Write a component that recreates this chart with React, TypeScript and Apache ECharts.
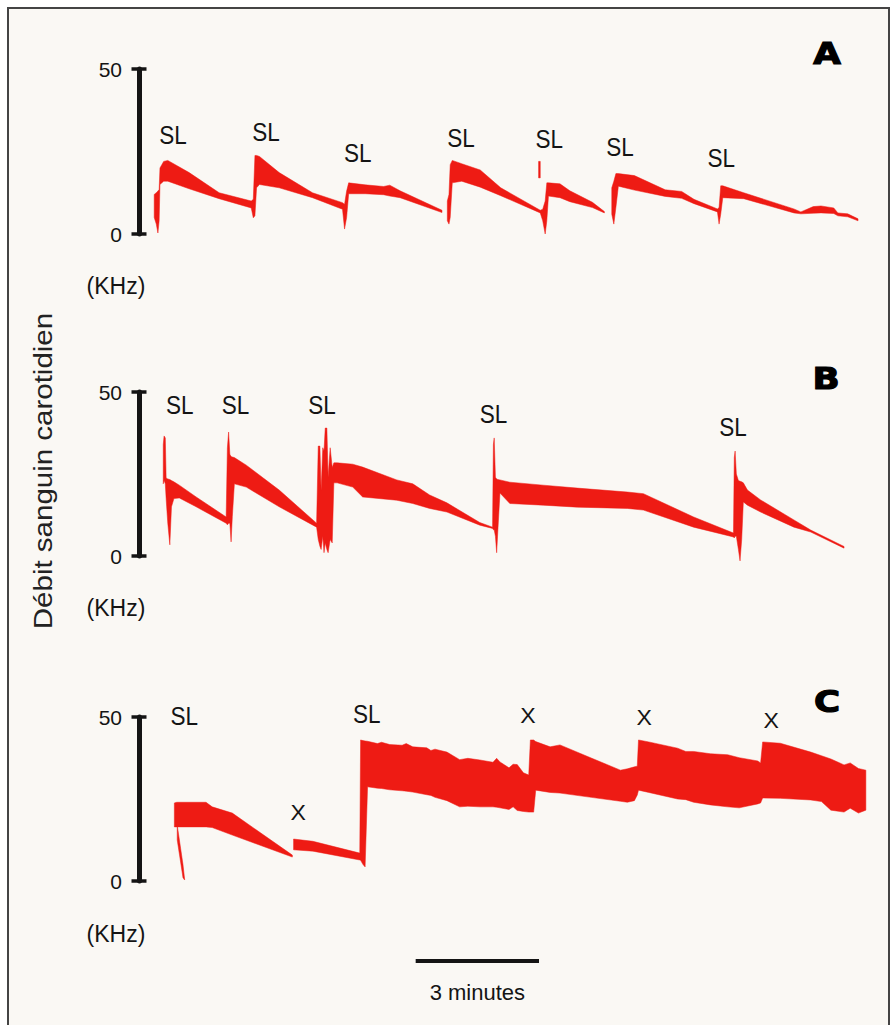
import React, { useEffect, useRef } from "react";
import * as echarts from "echarts";

type Pt = [number, number, number]; // [time (min), lower (KHz), upper (KHz)]

const FONT = '"Liberation Sans", Arial, Helvetica, sans-serif';
const RED = "#ee1b14";
const INK = "#141414";

const X_MIN = 0;
const X_MAX = 18;
const Y_MIN = 0;
const Y_MAX = 50;
const Y_STEP = 50;

// ---------- Panel A ----------
const traceA1: Pt[] = [
  [0.37, 5, 12], [0.42, 3, 12.5], [0.46, 0.3, 13], [0.49, 4, 13.5], [0.51, 15, 20],
  [0.6, 16, 22], [0.7, 16, 22.3], [1.22, 13.7, 18.6], [1.95, 10.7, 12.5], [2.73, 7.9, 10],
  [2.78, 4.9, 10.5], [2.82, 5.5, 23.8], [2.86, 14, 23.8], [2.93, 15, 23.5], [3.41, 14, 18.6],
  [4.22, 11, 12.5], [4.95, 7.5, 9.5], [5.0, 1.5, 9], [5.05, 5, 13], [5.1, 12.2, 15.5],
  [5.5, 12.2, 14.9], [5.95, 11.9, 14.4], [6.1, 11.5, 14.8], [6.35, 11, 13.1], [7.37, 6.5, 7.2],
];
const traceA4: Pt[] = [
  [7.5, 4, 10], [7.54, 3, 12], [7.57, 5, 21], [7.62, 15.5, 22.3], [7.85, 16, 21.3],
  [8.3, 14.2, 19.4], [8.8, 11.6, 14], [9.76, 6.4, 7.2], [9.82, 4, 7.5], [9.88, 0, 10],
  [9.92, 4, 15.5], [9.96, 11.5, 15.5], [10.24, 11, 15.2], [10.48, 9.8, 13.1], [11.03, 8, 9.6],
  [11.32, 6.4, 6.8],
];
const tickA: Pt[] = [[9.72, 17, 22], [9.76, 17, 22]];
const traceA6: Pt[] = [
  [11.5, 6, 14], [11.55, 3, 16], [11.6, 8, 18.3], [11.66, 14.5, 18.3], [12.05, 13.3, 17.7],
  [12.8, 11.4, 13.4], [13.2, 10.8, 12.9], [13.5, 9.2, 10.5], [14.07, 6.7, 7.6], [14.11, 3, 8],
  [14.15, 6, 14.6], [14.2, 11, 14.6], [14.71, 10.7, 12.5], [15.93, 6.4, 7.6], [16.1, 6.1, 6.7],
  [16.4, 6.3, 8.3], [16.59, 6.4, 8.5], [16.9, 6.2, 7.9], [17.0, 5.5, 6.4], [17.24, 5.2, 6.1],
  [17.49, 4.0, 4.6],
];
const slLabelsA: [number, number][] = [
  [0.83, 30.1], [3.09, 30.9], [5.32, 24.4], [7.83, 29.0], [9.98, 28.7], [11.7, 26.2], [14.16, 22.9],
];

// ---------- Panel B ----------
const traceB: Pt[] = [
  [0.59, 22, 34], [0.61, 23, 36.6], [0.64, 22, 36], [0.66, 17.5, 23.8], [0.7, 10, 23.5],
  [0.75, 3.4, 23.3], [0.79, 15, 23], [0.85, 17.5, 22.6], [0.98, 17.7, 21.6], [1.39, 15, 18],
  [2.12, 10, 11.9], [2.15, 9.5, 33], [2.18, 10, 37.8], [2.21, 10, 31], [2.24, 4.3, 30.3],
  [2.27, 12, 30.2], [2.32, 22, 30], [2.61, 21, 27.7], [3.41, 15, 20.1], [4.32, 8.8, 10],
  [4.36, 5, 33.5], [4.4, 3, 33.5], [4.43, 2, 20], [4.47, 6, 33], [4.5, 1, 32],
  [4.53, 4, 39], [4.57, 2, 39], [4.6, 1, 24], [4.65, 5, 33], [4.7, 4, 27],
  [4.74, 22.3, 28.4], [4.82, 22.3, 28.4], [5.2, 21, 28], [5.44, 18, 27.1], [6.27, 17, 23.2],
  [6.66, 16, 22], [7.07, 14.5, 18.6], [7.49, 13.4, 16.2], [8.29, 9.4, 10.2], [8.6, 8.4, 8.8],
  [8.62, 8, 34], [8.64, 8, 36], [8.67, 6, 24], [8.7, 1, 23.5], [8.73, 8, 23.3],
  [8.78, 19.2, 23.2], [9.02, 16, 22.5], [9.83, 15.5, 21.6], [10.66, 14.9, 20.7], [11.88, 14.5, 19.5],
  [12.27, 14, 19.0], [13.49, 8.8, 11.9], [14.46, 5.8, 7], [14.48, 5.5, 30], [14.5, 6, 32],
  [14.53, 6, 25], [14.58, 2, 23], [14.62, -1.5, 22.8], [14.66, 5, 22.6], [14.7, 16.5, 22.3],
  [14.8, 15.5, 20.1], [15.12, 13.4, 17.1], [15.93, 8.8, 11], [16.34, 7.3, 7.9], [17.15, 2.4, 2.9],
];
const slLabelsB: [number, number][] = [
  [0.99, 46.1], [2.35, 46.1], [4.45, 46.1], [8.62, 43.2], [14.45, 39.45],
];

// ---------- Panel C ----------
const traceC1: Pt[] = [
  [0.86, 16.5, 23.8], [0.92, 16.5, 24], [1.63, 16.5, 24], [1.78, 16.3, 22.6],
  [2.27, 14, 20.7], [3.73, 7.3, 7.9],
];
const tailC1: Pt[] = [[0.93, 12.5, 17], [1.07, 1, 5], [1.11, 0.3, 0.5]];
const traceC2: Pt[] = [
  [3.76, 9.5, 12.8], [4.23, 9.1, 12.1], [5.37, 6.4, 8.5], [5.39, 6.3, 43], [5.45, 5, 42.8],
  [5.5, 4.3, 42.7], [5.56, 28.7, 42.6], [5.8, 28.3, 41.9], [5.9, 28.2, 42.3], [6.1, 27.8, 41.6],
  [6.4, 27.5, 41.4], [6.5, 27.4, 41.9], [6.66, 27.1, 40.9], [7.0, 26.3, 40.6], [7.1, 26.1, 39.8],
  [7.2, 25.5, 40.2], [7.49, 24.5, 39.3], [7.8, 22.6, 37.0], [8.0, 22.8, 37.4], [8.29, 22.6, 36.9],
  [8.61, 22.6, 36.2], [8.7, 22.5, 37.4], [8.78, 22.3, 36.3], [9.0, 21.8, 34.5], [9.1, 22.6, 35.6],
  [9.2, 21.5, 35.5], [9.35, 21.2, 33.0], [9.48, 21, 32.3], [9.52, 21, 43], [9.6, 21, 43],
  [9.65, 27.7, 42.5], [10.0, 27, 40.9], [10.24, 26.8, 41.5], [11.0, 25.5, 37.5], [11.71, 24.3, 33.8],
  [11.88, 24, 34.2], [12.05, 24.5, 34.8], [12.12, 26.2, 35], [12.15, 27.7, 43], [12.4, 27, 42.4],
  [13.1, 25, 40.5], [13.3, 24.8, 39.5], [13.49, 24, 39.5], [13.9, 23.2, 38.8], [14.32, 22.6, 38.5],
  [14.6, 22.3, 37.6], [15.05, 23.5, 36.6], [15.12, 23.8, 36], [15.17, 25.3, 42.4], [15.6, 25.2, 42.0],
  [16.34, 24.7, 39.3], [16.6, 24.2, 38.2], [16.83, 21.6, 37.2], [17.15, 21.0, 35.4], [17.3, 22.2, 36.0],
  [17.5, 20.7, 34.3], [17.68, 21.6, 33.8],
];
const slLabelsC: [number, number][] = [[1.1, 50.4], [5.54, 50.9]];
const xLabelsC: [number, number][] = [[3.87, 20.7], [9.46, 50.3], [12.29, 49.7], [15.38, 48.8]];

// scale bar: [start (min), length (min)]
const scaleBar: [number, number][] = [[6.73, 3]];

const flatten = (segs: Pt[][]) =>
  segs.flatMap((seg, si) => seg.map((p) => [p[0], p[1], p[2], si]));

// one filled polygon per continuous segment (drawn at the segment's first point)
const bandRender = (params: any, api: any) => {
  const i = params.dataIndexInside;
  const n = params.dataInsideLength;
  const seg = api.value(3, i);
  if (i > 0 && api.value(3, i - 1) === seg) return null;
  const upper: number[][] = [];
  const lower: number[][] = [];
  for (let j = i; j < n && api.value(3, j) === seg; j++) {
    const t = api.value(0, j);
    upper.push(api.coord([t, api.value(2, j)]));
    lower.push(api.coord([t, api.value(1, j)]));
  }
  return {
    type: "polygon",
    shape: { points: upper.concat(lower.reverse()) },
    style: { fill: RED, stroke: RED, lineWidth: 0.5 },
  };
};

const textRender = (text: string, fontSize: number, scaleX: number) => (params: any, api: any) => {
  const c = api.coord([api.value(0), api.value(1)]);
  return {
    type: "text",
    x: c[0],
    y: c[1],
    scaleX,
    style: {
      text,
      fontSize,
      fontFamily: FONT,
      fill: INK,
      align: "center",
      verticalAlign: "middle",
      textAlign: "center",
      textVerticalAlign: "middle",
    },
  };
};

const scaleBarRender = (params: any, api: any) => {
  const start = api.value(0);
  const len = api.value(1);
  const a = api.coord([start, 0]);
  const b = api.coord([start + len, 0]);
  const y = a[1] + 80;
  return {
    type: "group",
    children: [
      { type: "line", shape: { x1: a[0], y1: y, x2: b[0], y2: y }, style: { stroke: INK, lineWidth: 4 } },
      {
        type: "text",
        x: (a[0] + b[0]) / 2,
        y: y + 31,
        style: {
          text: `${len} minutes`,
          fontSize: 22,
          fontFamily: FONT,
          fill: INK,
          align: "center",
          verticalAlign: "middle",
          textAlign: "center",
          textVerticalAlign: "middle",
        },
      },
    ],
  };
};

const GRIDS = [
  { left: 139, top: 69, width: 740, height: 165 },
  { left: 139, top: 392, width: 740, height: 164 },
  { left: 139, top: 717, width: 740, height: 164 },
];

const yMain = (gridIndex: number) => ({
  type: "value",
  gridIndex,
  position: "left",
  min: Y_MIN,
  max: Y_MAX,
  interval: Y_STEP,
  axisLine: { show: true, lineStyle: { color: INK, width: 5 } },
  axisTick: { show: true, length: 7.5, lineStyle: { color: INK, width: 3.5 } },
  axisLabel: { fontSize: 21, color: INK, fontFamily: FONT, margin: 17 },
  splitLine: { show: false },
});
const yInner = (gridIndex: number) => ({
  type: "value",
  gridIndex,
  position: "left",
  min: Y_MIN,
  max: Y_MAX,
  interval: Y_STEP,
  axisLine: { show: false },
  axisTick: { show: true, inside: true, length: 7.5, lineStyle: { color: INK, width: 3.5 } },
  axisLabel: { show: false },
  splitLine: { show: false },
});

const bandSeries = (panel: number, segs: Pt[][]) => ({
  type: "custom",
  xAxisIndex: panel,
  yAxisIndex: panel * 2,
  clip: false,
  silent: true,
  renderItem: bandRender,
  encode: { x: 0, y: [1, 2] },
  data: flatten(segs),
});
const labelSeries = (panel: number, pts: [number, number][], text: string, size: number, sx: number) => ({
  type: "custom",
  xAxisIndex: panel,
  yAxisIndex: panel * 2,
  clip: false,
  silent: true,
  renderItem: textRender(text, size, sx),
  encode: { x: 0, y: 1 },
  data: pts,
  z: 5,
});

const panelLetter = (text: string, x: number, y: number) => ({
  type: "text",
  x,
  y,
  scaleX: 1.15,
  z: 10,
  style: {
    text,
    fontSize: 31,
    fontFamily: '"DejaVu Sans", sans-serif',
    fontWeight: "bold",
    fill: "#000",
    stroke: "#000",
    lineWidth: 1.2,
    align: "center",
    verticalAlign: "middle",
    textAlign: "center",
    textVerticalAlign: "middle",
  },
});
const unitText = (x: number, y: number) => ({
  type: "text",
  x,
  y,
  z: 10,
  style: {
    text: "(KHz)",
    fontSize: 23,
    fontFamily: FONT,
    fill: INK,
    align: "center",
    verticalAlign: "middle",
    textAlign: "center",
    textVerticalAlign: "middle",
  },
});

function buildOption(): any {
  return {
    animation: false,
    backgroundColor: "transparent",
    grid: GRIDS,
    xAxis: [0, 1, 2].map((g) => ({ type: "value", gridIndex: g, min: X_MIN, max: X_MAX, show: false })),
    yAxis: [yMain(0), yInner(0), yMain(1), yInner(1), yMain(2), yInner(2)],
    series: [
      bandSeries(0, [traceA1, traceA4, tickA, traceA6]),
      bandSeries(1, [traceB]),
      bandSeries(2, [traceC1, tailC1, traceC2]),
      labelSeries(0, slLabelsA, "SL", 25, 0.9),
      labelSeries(1, slLabelsB, "SL", 25, 0.9),
      labelSeries(2, slLabelsC, "SL", 25, 0.9),
      labelSeries(2, xLabelsC, "X", 22, 1.05),
      {
        type: "custom",
        xAxisIndex: 2,
        yAxisIndex: 4,
        clip: false,
        silent: true,
        renderItem: scaleBarRender,
        encode: { x: 0 },
        data: scaleBar,
      },
    ],
    graphic: [
      {
        type: "text",
        x: 43,
        y: 471,
        rotation: Math.PI / 2,
        scaleX: 1.18,
        z: 10,
        style: {
          text: "Débit sanguin carotidien",
          fontSize: 25,
          fontFamily: FONT,
          fill: "#222",
          align: "center",
          verticalAlign: "middle",
          textAlign: "center",
          textVerticalAlign: "middle",
        },
      },
      unitText(116, 286),
      unitText(116, 608),
      unitText(116, 934),
      panelLetter("A", 827, 53),
      panelLetter("B", 826, 378),
      panelLetter("C", 827, 701),
    ],
  };
}

export default function App() {
  const ref = useRef<HTMLDivElement>(null);
  useEffect(() => {
    if (!ref.current) return;
    const chart = echarts.init(ref.current, null, { renderer: "svg" });
    chart.setOption(buildOption());
    return () => chart.dispose();
  }, []);
  return (
    <div style={{ position: "fixed", left: 0, top: 0, width: 891, height: 1025, background: "#fff", overflow: "hidden" }}>
      <div
        style={{
          position: "absolute",
          left: 7,
          top: 7,
          width: 883,
          height: 1040,
          boxSizing: "border-box",
          border: "2px solid #444",
          background: "#faf8f4",
        }}
      />
      <div ref={ref} style={{ position: "absolute", left: 0, top: 0, width: 891, height: 1025 }} />
    </div>
  );
}
